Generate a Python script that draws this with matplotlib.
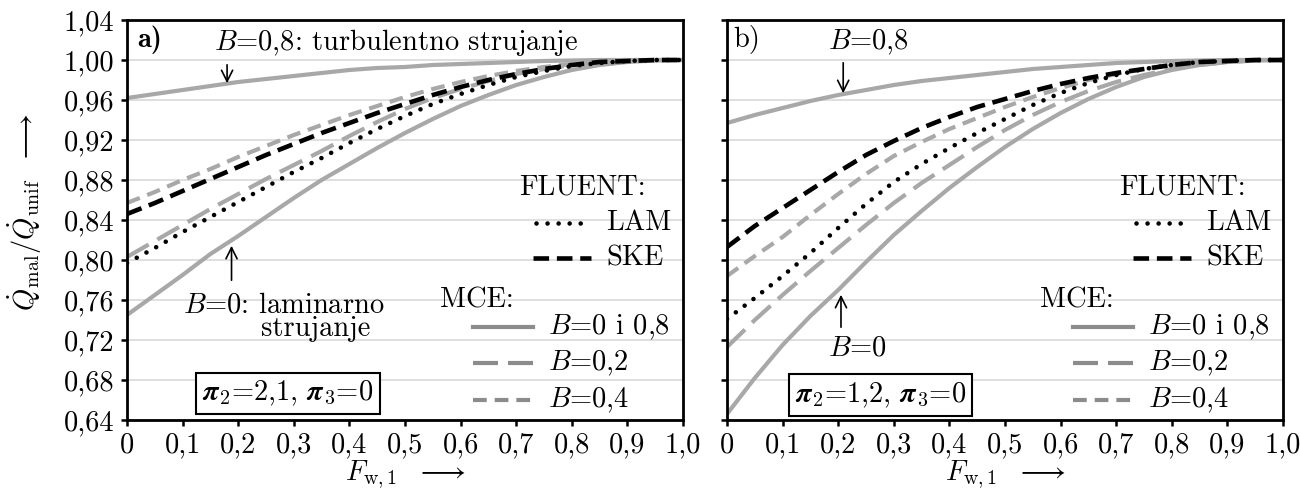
import matplotlib
matplotlib.use("Agg")
import matplotlib.pyplot as plt
from matplotlib.lines import Line2D
from matplotlib.mathtext import MathTextParser

plt.rcParams['font.family'] = 'serif'
plt.rcParams['font.serif'] = ['cmr10']
plt.rcParams['mathtext.fontset'] = 'cm'
plt.rcParams['axes.unicode_minus'] = False

# F_w,1 values
F = [0, 0.05, 0.1, 0.15, 0.2, 0.25, 0.3, 0.35, 0.4, 0.45, 0.5,
     0.55, 0.6, 0.65, 0.7, 0.75, 0.8, 0.85, 0.9, 0.95, 1.0]

# panel a) pi2=2,1
mce_b08_a = [0.962, 0.966, 0.970, 0.974, 0.978, 0.981, 0.984, 0.987, 0.990, 0.992, 0.993,
             0.995, 0.996, 0.997, 0.998, 0.999, 0.9995, 1.0, 1.0, 1.0, 1.0]
mce_b0_a = [0.745, 0.765, 0.785, 0.806, 0.824, 0.843, 0.862, 0.880, 0.896, 0.912, 0.927,
            0.941, 0.954, 0.965, 0.975, 0.983, 0.990, 0.995, 0.998, 0.9995, 1.0]
mce_b02_a = [0.803, 0.819, 0.835, 0.851, 0.866, 0.881, 0.895, 0.909, 0.924, 0.938, 0.951,
             0.962, 0.971, 0.979, 0.986, 0.991, 0.995, 0.998, 0.999, 1.0, 1.0]
mce_b04_a = [0.857, 0.868, 0.880, 0.891, 0.903, 0.914, 0.925, 0.935, 0.945, 0.954, 0.963,
             0.971, 0.978, 0.984, 0.989, 0.993, 0.996, 0.998, 0.999, 1.0, 1.0]
lam_a = [0.797, 0.812, 0.828, 0.843, 0.858, 0.873, 0.888, 0.902, 0.917, 0.931, 0.944,
         0.956, 0.966, 0.975, 0.983, 0.989, 0.994, 0.997, 0.999, 1.0, 1.0]
ske_a = [0.846, 0.857, 0.869, 0.881, 0.893, 0.905, 0.916, 0.927, 0.937, 0.947, 0.956,
         0.965, 0.973, 0.980, 0.986, 0.991, 0.995, 0.998, 0.999, 1.0, 1.0]

# panel b) pi2=1,2
mce_b08_b = [0.937, 0.945, 0.952, 0.959, 0.965, 0.970, 0.975, 0.979, 0.982, 0.985, 0.988,
             0.991, 0.993, 0.995, 0.997, 0.998, 0.999, 0.9995, 1.0, 1.0, 1.0]
mce_b0_b = [0.646, 0.682, 0.715, 0.744, 0.770, 0.798, 0.825, 0.849, 0.872, 0.893, 0.913,
            0.931, 0.947, 0.961, 0.973, 0.983, 0.990, 0.995, 0.998, 0.9995, 1.0]
mce_b02_b = [0.713, 0.740, 0.765, 0.789, 0.812, 0.835, 0.857, 0.877, 0.895, 0.913, 0.930,
             0.945, 0.958, 0.969, 0.978, 0.985, 0.991, 0.995, 0.998, 0.9995, 1.0]
mce_b04_b = [0.784, 0.804, 0.823, 0.845, 0.866, 0.886, 0.904, 0.918, 0.931, 0.942, 0.953,
             0.963, 0.972, 0.980, 0.986, 0.991, 0.995, 0.998, 0.999, 1.0, 1.0]
lam_b = [0.741, 0.762, 0.784, 0.807, 0.832, 0.856, 0.878, 0.896, 0.912, 0.927, 0.941,
         0.955, 0.967, 0.977, 0.985, 0.991, 0.995, 0.998, 0.999, 1.0, 1.0]
ske_b = [0.813, 0.834, 0.852, 0.870, 0.888, 0.905, 0.919, 0.932, 0.943, 0.953, 0.961,
         0.969, 0.976, 0.982, 0.987, 0.991, 0.995, 0.998, 0.999, 1.0, 1.0]

yticks = [0.64, 0.68, 0.72, 0.76, 0.80, 0.84, 0.88, 0.92, 0.96, 1.00, 1.04]
ytick_labels = ['0,64', '0,68', '0,72', '0,76', '0,80', '0,84', '0,88', '0,92', '0,96', '1,00', '1,04']
xticks = [0, 0.1, 0.2, 0.3, 0.4, 0.5, 0.6, 0.7, 0.8, 0.9, 1.0]
xtick_labels = ['0', '0,1', '0,2', '0,3', '0,4', '0,5', '0,6', '0,7', '0,8', '0,9', '1,0']

gray = '#a8a8a8'
lgray = '#8c8c8c'
fs = 20.5

# bold pi if mathtext can do it
pi = r'\pi'
for cand in [r'\boldsymbol{\pi}', r'\mathbfit{\pi}']:
    try:
        MathTextParser('path').parse('$' + cand + '$', 72)
        pi = cand
        break
    except Exception:
        pass

fig = plt.figure(figsize=(13, 4.95), dpi=100)
ax1 = fig.add_axes([127/1300, 75/495, 556/1300, 400/495])
ax2 = fig.add_axes([727/1300, 75/495, 556/1300, 400/495])

styles = dict(
    b0=dict(color=gray, lw=3, ls='-'),
    b02=dict(color=gray, lw=3, ls=(0, (6, 2.4))),
    b04=dict(color=gray, lw=3, ls=(0, (3.3, 1.9))),
    lam=dict(color='k', lw=3.3, ls=(0, (0.01, 2.4)), dash_capstyle='round'),
    ske=dict(color='k', lw=3.3, ls=(0, (3.4, 1.7))),
)

for ax, b08, b0, b02, b04, lam, ske in [
        (ax1, mce_b08_a, mce_b0_a, mce_b02_a, mce_b04_a, lam_a, ske_a),
        (ax2, mce_b08_b, mce_b0_b, mce_b02_b, mce_b04_b, lam_b, ske_b)]:
    ax.plot(F, b08, **styles['b0'])
    ax.plot(F, b0, **styles['b0'])
    ax.plot(F, b02, **styles['b02'])
    ax.plot(F, b04, **styles['b04'])
    ax.plot(F, lam, **styles['lam'])
    ax.plot(F, ske, **styles['ske'])
    ax.set_xlim(0, 1)
    ax.set_ylim(0.64, 1.04)
    ax.set_yticks(yticks)
    ax.set_xticks(xticks)
    ax.set_xticklabels(xtick_labels, fontsize=fs)
    ax.grid(axis='y', color='#d9d9d9', lw=1.2)
    ax.set_axisbelow(True)
    for s in ax.spines.values():
        s.set_linewidth(2)
    ax.tick_params(direction='out', length=4, width=1.8, pad=5)
    ax.set_xlabel(r'$F_{\mathrm{w,1}}\ \ \longrightarrow$', fontsize=fs, labelpad=0)

    # legend
    t = ax.transAxes
    ax.text(0.705, 0.5825, 'FLUENT:', transform=t, fontsize=fs, va='center')
    ax.add_line(Line2D([0.735, 0.833], [0.4925, 0.4925], transform=t, **styles['lam']))
    ax.text(0.862, 0.4925, 'LAM', transform=t, fontsize=fs, va='center')
    ax.add_line(Line2D([0.73, 0.835], [0.405, 0.405], transform=t, **styles['ske']))
    ax.text(0.862, 0.405, 'SKE', transform=t, fontsize=fs, va='center')
    ax.text(0.563, 0.30, 'MCE:', transform=t, fontsize=fs, va='center')
    for yy, key, lab in [(0.2325, 'b0', r'$B$=0 i 0,8'), (0.1425, 'b02', r'$B$=0,2'),
                         (0.05, 'b04', r'$B$=0,4')]:
        st = dict(styles[key])
        st['color'] = lgray
        ax.add_line(Line2D([0.622, 0.73], [yy, yy], transform=t, **st))
        ax.text(0.758, yy, lab, transform=t, fontsize=fs, va='center')

ax1.set_yticklabels(ytick_labels, fontsize=fs)
ax2.set_yticklabels([])
ax1.set_ylabel(r'$\dot{Q}_{\mathrm{mal}}/\dot{Q}_{\mathrm{unif}}\ \ \longrightarrow$', fontsize=fs)
ax1.yaxis.set_label_coords(-0.15, 0.52)

arrow = dict(arrowstyle='->', color='k', lw=1.2, mutation_scale=20)

# panel a) annotations
ax1.text(0.018, 1.02, 'a)', fontsize=fs, family='cmb10', va='center')
ax1.text(0.157, 1.018, r'$B$=0,8: turbulentno strujanje', fontsize=fs, va='center')
ax1.annotate('', xy=(0.18, 0.974), xytext=(0.18, 0.998), arrowprops=arrow)
ax1.text(0.10, 0.755, r'$B$=0: laminarno', fontsize=fs, va='center')
ax1.text(0.241, 0.731, 'strujanje', fontsize=fs, va='center')
ax1.annotate('', xy=(0.188, 0.817), xytext=(0.188, 0.777), arrowprops=arrow)
ax1.text(0.289, 0.6665, r'$%s_2$=2,1, $%s_3$=0' % (pi, pi), fontsize=fs,
         ha='center', va='center',
         bbox=dict(boxstyle='square,pad=0.22', fc='white', ec='k', lw=1.5))

# panel b) annotations
ax2.text(0.012, 1.02, 'b)', fontsize=fs, va='center')
ax2.text(0.182, 1.018, r'$B$=0,8', fontsize=fs, va='center')
ax2.annotate('', xy=(0.209, 0.964), xytext=(0.209, 1.0), arrowprops=arrow)
ax2.text(0.182, 0.712, r'$B$=0', fontsize=fs, va='center')
ax2.annotate('', xy=(0.205, 0.768), xytext=(0.205, 0.730), arrowprops=arrow)
ax2.text(0.276, 0.665, r'$%s_2$=1,2, $%s_3$=0' % (pi, pi), fontsize=fs,
         ha='center', va='center',
         bbox=dict(boxstyle='square,pad=0.22', fc='white', ec='k', lw=1.5))

fig.savefig('out.png', dpi=100)
